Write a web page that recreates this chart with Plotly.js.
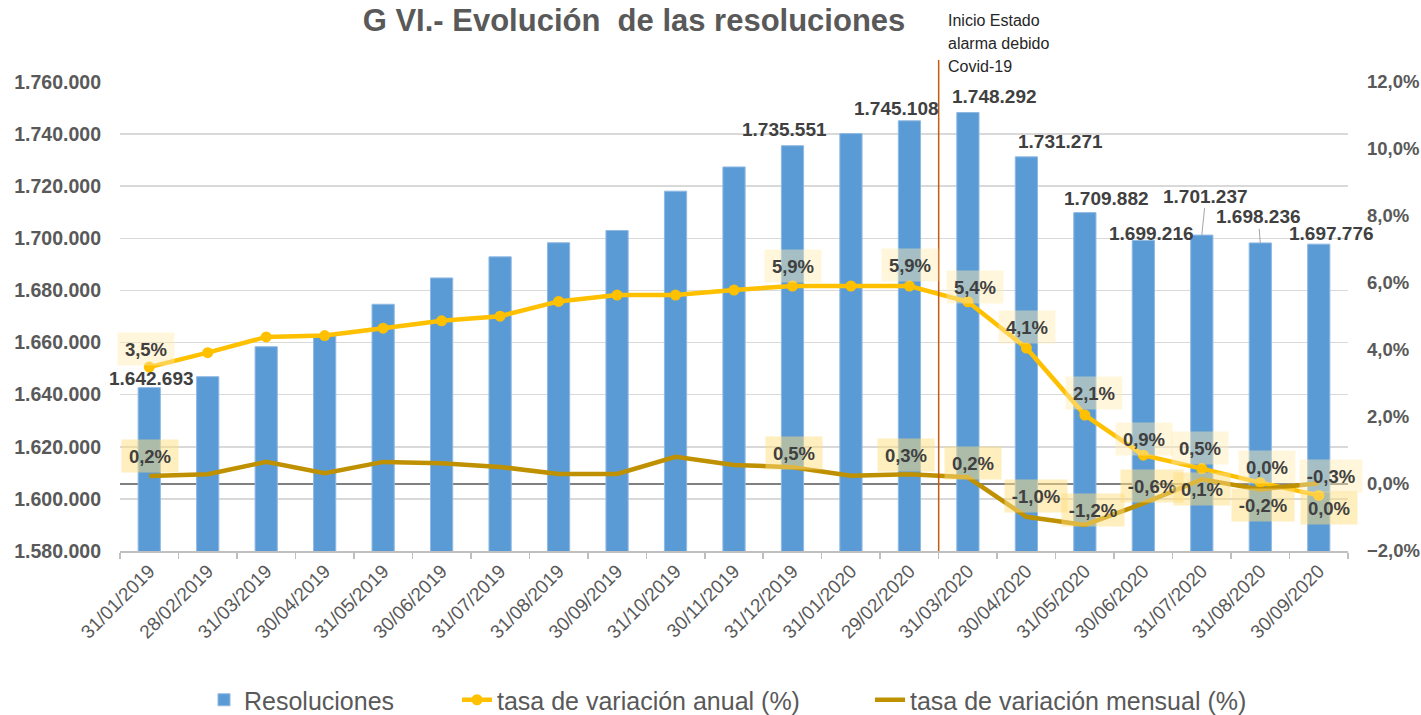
<!DOCTYPE html>
<html>
<head>
<meta charset="utf-8">
<script src="https://cdn.plot.ly/plotly-3.0.1.min.js"></script>
<style>
  html, body { margin: 0; padding: 0; background: #ffffff; }
  #chart { width: 1421px; height: 715px; }
</style>
</head>
<body>
<div id="chart"></div>
<script>
// ---------- DATA ----------
const fechas = [
  "31/01/2019", "28/02/2019", "31/03/2019", "30/04/2019", "31/05/2019", "30/06/2019",
  "31/07/2019", "31/08/2019", "30/09/2019", "31/10/2019", "30/11/2019", "31/12/2019",
  "31/01/2020", "29/02/2020", "31/03/2020", "30/04/2020", "31/05/2020", "30/06/2020",
  "31/07/2020", "31/08/2020", "30/09/2020"
];
const resoluciones = [
  1642693, 1646900, 1658400, 1662600, 1674700, 1684800,
  1692900, 1698300, 1703000, 1718100, 1727400, 1735551,
  1740200, 1745108, 1748292, 1731271, 1709882, 1699216,
  1701237, 1698236, 1697776
];
const tasaAnual = [
  3.49, 3.92, 4.39, 4.43, 4.65, 4.87,
  5.01, 5.45, 5.64, 5.64, 5.79, 5.91,
  5.91, 5.91, 5.44, 4.06, 2.06, 0.86,
  0.46, 0.04, -0.34
];
const tasaMensual = [
  0.24, 0.29, 0.66, 0.32, 0.66, 0.62,
  0.51, 0.30, 0.30, 0.81, 0.57, 0.50,
  0.25, 0.29, 0.20, -0.98, -1.22, -0.58,
  0.14, -0.16, 0.02
];
const idxEtiquetasBarras = [0, 11, 13, 14, 15, 16, 17, 18, 19, 20];
const idxEtiquetasTasas  = [0, 11, 13, 14, 15, 16, 17, 18, 19, 20];
const fechaEstadoAlarma = 13.5; // between 29/02/2020 and 31/03/2020 (category index)
const textoAlarma = ["Inicio Estado", "alarma debido", "Covid-19"];
const tituloGrafico = "G VI.- Evolución  de las resoluciones";

// ---------- LABEL PLACEMENT (pixel offsets, style only) ----------
const offBarras = {   // [xshift, yshift, leaderLine]
  0: [2.5, 9], 11: [-8, 16], 13: [-13, 12], 14: [27, 16.5], 15: [34, 15],
  16: [22, 13.6], 17: [8.5, 6.5], 18: [4, 39, true], 19: [-2, 26, true], 20: [13, 11]
};
const offAnual = {
  0: [-3.5, 17.7], 11: [0.7, 20], 13: [1, 21], 14: [7, 15], 15: [1, 21],
  16: [9, 22], 17: [1, 16], 18: [-2, 21], 19: [7, 16], 20: [12, 19]
};
const offMensual = {
  0: [1, 20], 11: [2, 14], 13: [-3, 19], 14: [5, 14], 15: [10, 21],
  16: [8, 15], 17: [9, 17], 18: [0, -10], 19: [3, -16], 20: [10, -25]
};

// ---------- STYLE ----------
const FONT = "Liberation Sans, Arial, sans-serif";
const GRIS = "#595959";
const OSC = "#404040";
const W = 1421, H = 715;
const M = { l: 120, r: 73, t: 82, b: 164 };
const plotH = H - M.t - M.b;
const plotW = W - M.l - M.r;
const pyToPaper = py => (H - M.b - py) / plotH;
const pxToPaper = px => (px - M.l) / plotW;

function fmtMiles(v) {
  return String(Math.round(v)).replace(/\B(?=(\d{3})+(?!\d))/g, ".");
}
function fmtPct(v) {
  let s = v.toFixed(1);
  if (s === "-0.0") s = "0.0";
  return s.replace(".", ",") + "%";
}

const traces = [
  {
    type: "bar",
    name: "Resoluciones",
    x: fechas,
    y: resoluciones,
    yaxis: "y",
    legend: "legend",
    marker: { color: "#5B9BD5", line: { color: "#8FB9E3", width: 1 } }
  },
  {
    type: "scatter",
    mode: "lines+markers",
    name: "tasa de variación anual (%)",
    x: fechas,
    y: tasaAnual,
    yaxis: "y2",
    legend: "legend2",
    line: { color: "#FFC000", width: 4.5 },
    marker: { color: "#FFC000", size: 11 }
  },
  {
    type: "scatter",
    mode: "lines",
    name: "tasa de variación mensual (%)",
    x: fechas,
    y: tasaMensual,
    yaxis: "y2",
    legend: "legend3",
    line: { color: "#BF9000", width: 4.5 }
  }
];

const annotations = [];

idxEtiquetasBarras.forEach(i => {
  const o = offBarras[i];
  const a = {
    xref: "x", yref: "y", x: fechas[i], y: resoluciones[i],
    text: fmtMiles(resoluciones[i]),
    font: { family: FONT, size: 19, color: OSC, weight: "bold" },
    xanchor: "center", yanchor: "middle"
  };
  if (o[2]) {
    a.showarrow = true; a.arrowhead = 0; a.arrowwidth = 1; a.arrowcolor = "#A6A6A6";
    a.ax = o[0]; a.ay = -o[1]; a.standoff = 0;
  } else {
    a.showarrow = false; a.xshift = o[0]; a.yshift = o[1];
  }
  annotations.push(a);
});

function pctLabel(i, arr, off, bg) {
  const t = fmtPct(arr[i]);
  return {
    xref: "x", yref: "y2", x: fechas[i], y: arr[i],
    text: t, showarrow: false,
    xshift: off[i][0], yshift: off[i][1],
    font: { family: FONT, size: 18.5, color: OSC, weight: "bold" },
    bgcolor: bg, borderpad: 6,
    width: t.length > 4 ? 50 : 44, height: 20,
    xanchor: "center", yanchor: "middle"
  };
}
idxEtiquetasTasas.forEach(i => {
  annotations.push(pctLabel(i, tasaAnual, offAnual, "rgba(255,236,175,0.45)"));
});
idxEtiquetasTasas.forEach(i => {
  annotations.push(pctLabel(i, tasaMensual, offMensual, "rgba(255,222,125,0.5)"));
});

// covid annotation text, one line each
const lineasY = [20, 44, 67];
textoAlarma.forEach((t, k) => {
  annotations.push({
    xref: "paper", yref: "paper", x: pxToPaper(946), y: pyToPaper(lineasY[k]),
    xanchor: "left", yanchor: "middle", align: "left",
    text: t, showarrow: false,
    font: { family: FONT, size: 16, color: "#262626" }
  });
});

const legendBase = {
  orientation: "h",
  xref: "container", yref: "container",
  y: 1 - 700 / H, yanchor: "middle", xanchor: "left",
  font: { family: FONT, size: 25, color: GRIS },
  bgcolor: "rgba(0,0,0,0)"
};

const layout = {
  width: W,
  height: H,
  paper_bgcolor: "#ffffff",
  plot_bgcolor: "#ffffff",
  separators: ",.",
  margin: { l: M.l, r: M.r, t: M.t, b: M.b, pad: 0, autoexpand: false },
  font: { family: FONT, color: GRIS },
  title: {
    text: tituloGrafico,
    font: { family: FONT, size: 31, color: GRIS, weight: "bold" },
    xref: "container", x: 634 / W, xanchor: "center",
    yref: "container", y: 1 - 20 / H, yanchor: "middle"
  },
  bargap: 0.62,
  showlegend: true,
  legend:  Object.assign({}, legendBase, { x: 204 / W }),
  legend2: Object.assign({}, legendBase, { x: 457 / W }),
  legend3: Object.assign({}, legendBase, { x: 870 / W }),
  xaxis: {
    type: "category",
    categoryorder: "array",
    categoryarray: fechas,
    range: [-0.5, fechas.length - 0.5],
    autorange: false,
    automargin: false,
    tickangle: -45,
    tickfont: { family: FONT, size: 19, color: GRIS },
    ticks: "outside",
    tickson: "boundaries",
    ticklen: 6,
    tickcolor: "#BFBFBF",
    tickwidth: 1.5,
    showline: true,
    linecolor: "#BFBFBF",
    linewidth: 1.5,
    showgrid: false,
    zeroline: false,
    fixedrange: true
  },
  yaxis: {
    range: [1580000, 1760000],
    autorange: false,
    automargin: false,
    dtick: 20000,
    tick0: 1580000,
    tickformat: ",d",
    tickfont: { family: FONT, size: 19.5, color: GRIS, weight: "bold" },
    ticklabelstandoff: 18,
    showgrid: true,
    gridcolor: "#D9D9D9",
    gridwidth: 1.5,
    zeroline: false,
    showline: false,
    ticks: "",
    fixedrange: true
  },
  yaxis2: {
    overlaying: "y",
    side: "right",
    range: [-2, 12],
    autorange: false,
    automargin: false,
    dtick: 2,
    tick0: 0,
    tickformat: ".1f",
    ticksuffix: "%",
    tickfont: { family: FONT, size: 18.5, color: GRIS, weight: "bold" },
    ticklabelstandoff: 18,
    showgrid: false,
    zeroline: true,
    zerolinecolor: "#808080",
    zerolinewidth: 1.5,
    showline: false,
    ticks: "",
    fixedrange: true
  },
  shapes: [
    {
      type: "line", xref: "x", yref: "paper",
      x0: fechaEstadoAlarma, x1: fechaEstadoAlarma, y0: 0, y1: pyToPaper(60),
      line: { color: "#C55A11", width: 1.5 },
      layer: "above"
    }
  ],
  annotations: annotations
};

Plotly.newPlot("chart", traces, layout, { displayModeBar: false, staticPlot: true });
</script>
</body>
</html>
